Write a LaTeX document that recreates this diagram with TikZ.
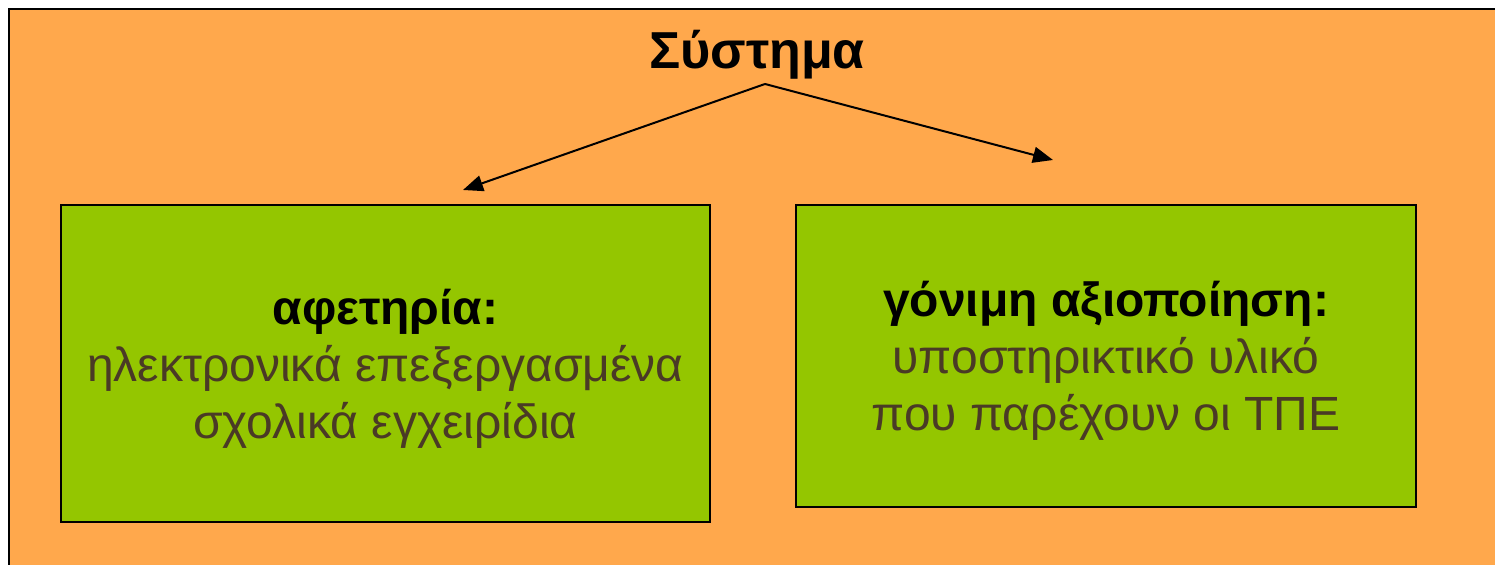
\documentclass[tikz,border=0pt]{standalone}
\usepackage{fontspec}
\setmainfont{Liberation Sans}
\usetikzlibrary{arrows.meta}
\definecolor{slideorange}{HTML}{FFA84C}
\definecolor{boxgreen}{HTML}{94C600}
\definecolor{textbrown}{HTML}{4A3A26}
\tikzset{
  greenbox/.style={draw=black,line width=1pt,fill=boxgreen},
  boxtext/.style={text=textbrown,align=center,font=\fontsize{24}{28.5}\selectfont},
  heading/.style={font=\bfseries\fontsize{26}{30}\selectfont}
}
\newcommand{\boxhead}[1]{{\color{black}\bfseries #1}}
\begin{document}
\begin{tikzpicture}[x=0.5pt,y=-0.5pt]
	\useasboundingbox (0,0) rectangle (1495,565);
	\fill[white] (0,0) rectangle (1495,565);
	\path[fill=slideorange,draw=black,line width=1pt] (9,9) rectangle (1500,570);
	
	\node[heading] (sys) at (757,55) {Σύστημα};
	\coordinate (apex) at (765,84);
	\coordinate (ltip) at (463,190);
	\coordinate (rtip) at (1053,160);
	
	\begin{scope}[every node/.style={greenbox}]
		\node[minimum width=324.5pt,minimum height=158.5pt] (start) at (385.5,363.5) {};
		\node[minimum width=310pt,minimum height=151pt] (use) at (1106,356) {};
	\end{scope}
	
	\begin{scope}[every node/.style={boxtext}]
		\node (starttext) at ([yshift=-2.5pt]start.center)
			{\boxhead{αφετηρία:}\\ηλεκτρονικά επεξεργασμένα\\σχολικά εγχειρίδια};
		\node (usetext) at ([yshift=-2.5pt]use.center)
			{\boxhead{γόνιμη αξιοποίηση:}\\υποστηρικτικό υλικό\\που παρέχουν οι ΤΠΕ};
	\end{scope}
	
	\begin{scope}[every edge/.style={draw=black,line width=1pt}]
		\path [-{Triangle[length=10pt,width=8pt]}] (apex) edge (ltip);
		\path [-{Triangle[length=10pt,width=8pt]}] (apex) edge (rtip);
	\end{scope}
\end{tikzpicture}
\end{document}
